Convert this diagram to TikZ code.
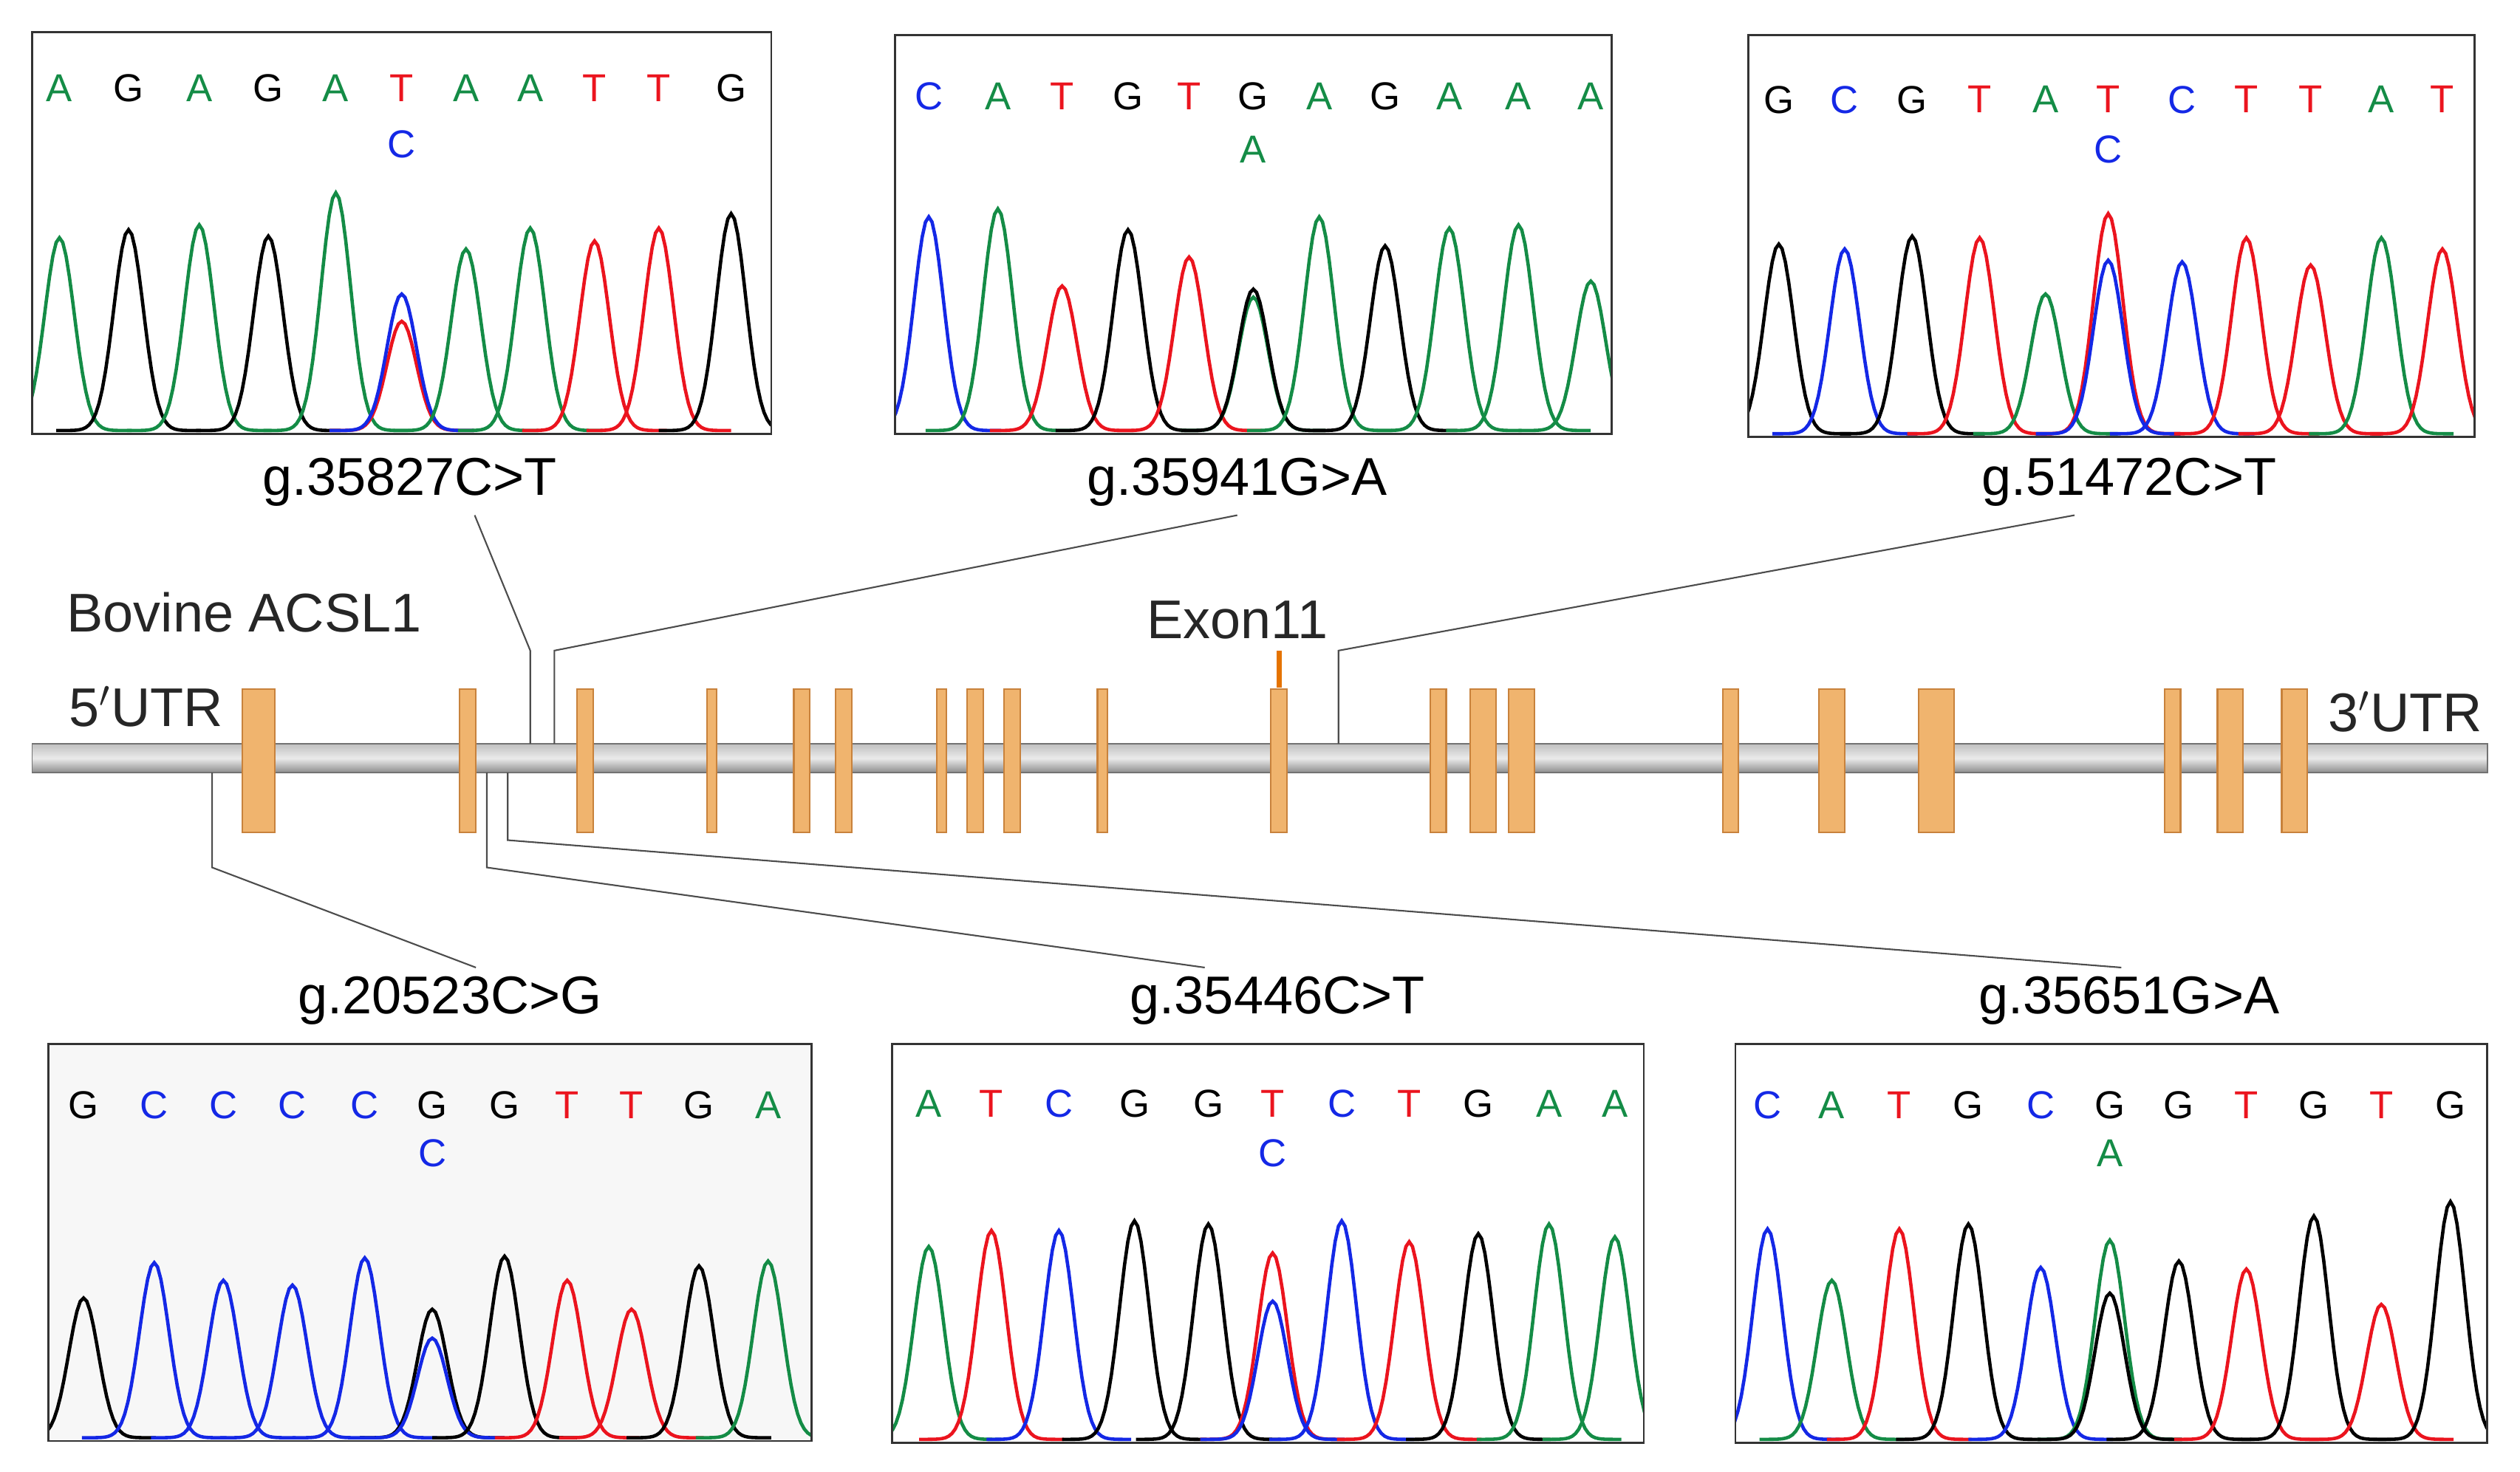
\documentclass[tikz,border=0pt]{standalone}
\usepackage{fontspec}
\setmainfont{Liberation Sans}
\usetikzlibrary{positioning}
\definecolor{bA}{RGB}{20,140,70}
\definecolor{bC}{RGB}{20,40,230}
\definecolor{bT}{RGB}{235,20,30}
\definecolor{bG}{RGB}{0,0,0}
\definecolor{exonc}{RGB}{240,180,110}
\definecolor{exonl}{RGB}{200,130,60}
\tikzset{
  panel/.style={draw=black!80, line width=0.8pt},
  pk/.style={line width=1.3pt},
  base/.style={font=\fontsize{15}{16}\selectfont},
  mut/.style={font=\fontsize{20.5}{23}\selectfont},
  lbl/.style={font=\fontsize{21}{23}\selectfont, text=black!85},
  lead/.style={draw=black!70, line width=0.6pt},
  exon/.style={draw=exonl, fill=exonc, line width=0.6pt},
}
% one chromatogram: #1 baseline y, #2 list of x/top/colour
\newcommand{\trace}[2]{%
  \foreach \px/\pt/\pc in {#2}
    \draw[\pc,pk] plot[domain=\px-45:\px+45,samples=45]
      (\x,{#1-(#1-\pt)*exp(-((\x-\px)/13)^2)});
}
\newcommand{\bases}[2]{%
  \foreach \bx/\bl/\bc in {#2}
    \node[base,text=\bc] at (\bx,#1) {\bl};
}
\begin{document}
\begin{tikzpicture}[x=0.02175cm,y=-0.02175cm]
    \useasboundingbox (0,0) rectangle (1568.3,916.3);

    % upper panels
    \begin{scope}
      \clip (20,20) rectangle (480,270);
      \trace{268}{37/148/bA,80/143/bG,124/140/bA,167/147/bG,209/120/bA,250/200/bT,250/183/bC,290/155/bA,330/142/bA,370/150/bT,410/142/bT,455/133/bG}
    \end{scope}
    \draw[panel] (20,20) rectangle (480,270);
    \bases{55}{37/A/bA,80/G/bG,124/A/bA,167/G/bG,209/A/bA,250/T/bT,290/A/bA,330/A/bA,370/T/bT,410/T/bT,455/G/bG}
    \node[base,text=bC] at (250,90) {C};

    \begin{scope}
      \clip (557,22) rectangle (1003,270);
      \trace{268}{578/135/bC,621/130/bA,661/178/bT,702/143/bG,740/160/bT,780/185/bA,780/180/bG,821/135/bA,862/153/bG,902/142/bA,945/140/bA,990/175/bA}
    \end{scope}
    \draw[panel] (557,22) rectangle (1003,270);
    \bases{60}{578/C/bC,621/A/bA,661/T/bT,702/G/bG,740/T/bT,780/G/bG,821/A/bA,862/G/bG,902/A/bA,945/A/bA,990/A/bA}
    \node[base,text=bA] at (780,93) {A};

    \begin{scope}
      \clip (1088,22) rectangle (1540,272);
      \trace{270}{1107/152/bG,1148/155/bC,1190/147/bG,1232/148/bT,1273/183/bA,1312/133/bT,1312/162/bC,1358/163/bC,1398/148/bT,1438/165/bT,1482/148/bA,1520/155/bT}
    \end{scope}
    \draw[panel] (1088,22) rectangle (1540,272);
    \bases{62}{1107/G/bG,1148/C/bC,1190/G/bG,1232/T/bT,1273/A/bA,1312/T/bT,1358/C/bC,1398/T/bT,1438/T/bT,1482/A/bA,1520/T/bT}
    \node[base,text=bC] at (1312,93) {C};

    % lower panels
    \fill[black!3] (30,650) rectangle (505,897);
    \begin{scope}
      \clip (30,650) rectangle (505,897);
      \trace{895}{52/808/bG,96/786/bC,139/797/bC,182/800/bC,227/783/bC,269/815/bG,269/833/bC,314/782/bG,353/797/bT,393/815/bT,435/788/bG,478/785/bA}
    \end{scope}
    \draw[panel] (30,650) rectangle (505,897);
    \bases{688}{52/G/bG,96/C/bC,139/C/bC,182/C/bC,227/C/bC,269/G/bG,314/G/bG,353/T/bT,393/T/bT,435/G/bG,478/A/bA}
    \node[base,text=bC] at (269,718) {C};

    \begin{scope}
      \clip (555,650) rectangle (1023,898);
      \trace{896}{578/776/bA,617/766/bT,659/766/bC,706/760/bG,752/762/bG,792/780/bT,792/810/bC,835/760/bC,877/773/bT,920/768/bG,964/762/bA,1005/770/bA}
    \end{scope}
    \draw[panel] (555,650) rectangle (1023,898);
    \bases{687}{578/A/bA,617/T/bT,659/C/bC,706/G/bG,752/G/bG,792/T/bT,835/C/bC,877/T/bT,920/G/bG,964/A/bA,1005/A/bA}
    \node[base,text=bC] at (792,718) {C};

    \begin{scope}
      \clip (1080,650) rectangle (1548,898);
      \trace{896}{1100/765/bC,1140/797/bA,1182/765/bT,1225/762/bG,1270/789/bC,1313/772/bA,1313/805/bG,1356/785/bG,1398/790/bT,1440/757/bG,1482/812/bT,1525/748/bG}
    \end{scope}
    \draw[panel] (1080,650) rectangle (1548,898);
    \bases{688}{1100/C/bC,1140/A/bA,1182/T/bT,1225/G/bG,1270/C/bC,1313/G/bG,1356/G/bG,1398/T/bT,1440/G/bG,1482/T/bT,1525/G/bG}
    \node[base,text=bA] at (1313,718) {A};

    % mutation names
    \node[mut] (m1) at (255,300) {g.35827C>T};
    \node[mut] (m2) at (770,300) {g.35941G>A};
    \node[mut] (m3) at (1325,300) {g.51472C>T};
    \node[mut] (m4) at (280,623) {g.20523C>G};
    \node[mut] (m5) at (795,623) {g.35446C>T};
    \node[mut] (m6) at (1325,623) {g.35651G>A};

    % gene
    \shade[top color=black!25, bottom color=black!45, middle color=black!8]
      (20,463) rectangle (1548,481);
    \draw[black!55] (20,463) rectangle (1548,481);
    \foreach \ex/\ew in {161/20,291/10,364/10,443/6,499/10,525/10,586/6,607/10,630/10,686/6,796/10,895/10,923/16,947/16,1077/10,1140/16,1205/22,1352/10,1388/16,1428/16}
      \draw[exon] (\ex-\ew/2,429) rectangle (\ex+\ew/2,518);
    \node[lbl] (gene) at (152,381) {Bovine ACSL1};
    \node[lbl] (utr5) at (91,440) {5$'$UTR};
    \node[lbl] (utr3) at (1497,443) {3$'$UTR};
    \node[lbl] (ex11) at (770,386) {Exon11};
    \draw[orange!90!black, line width=2pt] (796,405) -- (796,428);

    % leader lines
    \coordinate (a1) at (330,463); \coordinate (k1) at (330,405);
    \coordinate (a2) at (345,463); \coordinate (k2) at (345,405);
    \coordinate (a3) at (833,463); \coordinate (k3) at (833,405);
    \coordinate (a4) at (132,481); \coordinate (k4) at (132,540);
    \coordinate (a5) at (303,481); \coordinate (k5) at (303,540);
    \coordinate (a6) at (316,481); \coordinate (k6) at (316,523);
    \draw[lead] (a1) -- (k1) -- ([xshift=25pt]m1.south);
    \draw[lead] (a2) -- (k2) -- (m2.south);
    \draw[lead] (a3) -- (k3) -- ([xshift=-21pt]m3.south);
    \draw[lead] (a4) -- (k4) -- ([xshift=10pt]m4.north);
    \draw[lead] (a5) -- (k5) -- ([xshift=-28pt]m5.north);
    \draw[lead] (a6) -- (k6) -- ([xshift=-3pt]m6.north);
\end{tikzpicture}
\end{document}
